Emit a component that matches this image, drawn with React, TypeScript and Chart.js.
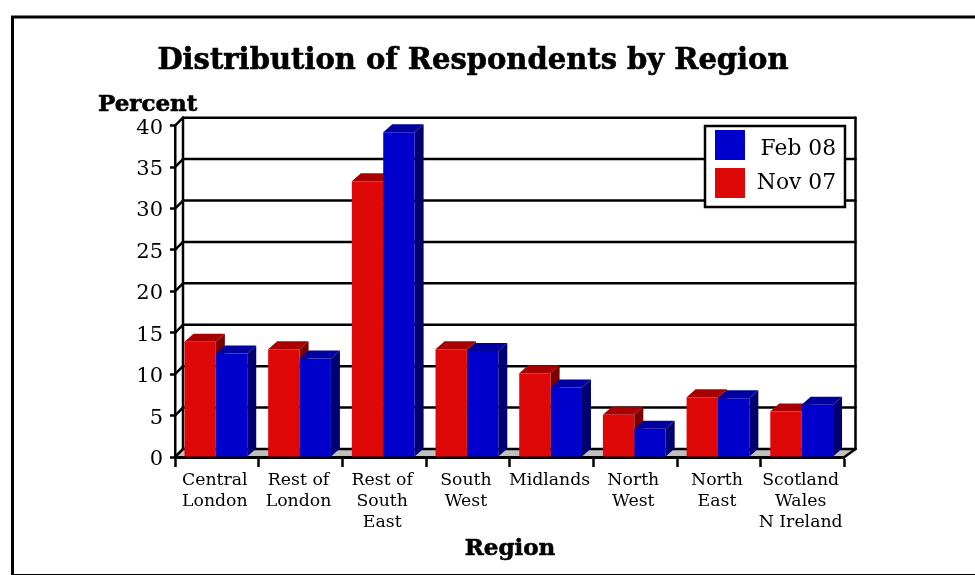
import React, { useEffect, useRef } from "react";
import { Chart, registerables } from "chart.js";

Chart.register(...registerables);

const categories = [
  ["Central", "London"],
  ["Rest of", "London"],
  ["Rest of", "South", "East"],
  ["South", "West"],
  ["Midlands"],
  ["North", "West"],
  ["North", "East"],
  ["Scotland", "Wales", "N Ireland"],
];
const nov07 = [13.9, 13, 33.3, 13, 10.1, 5.1, 7.2, 5.5];
const feb08 = [12.5, 11.9, 39.2, 12.8, 8.4, 3.4, 7.1, 6.3];
const legendItems = ["Feb 08", "Nov 07"];
const titleText = "Distribution of Respondents by Region";
const yTitleText = "Percent";
const xTitleText = "Region";

const RED = "#de0808";
const RED_TOP = "#a80000";
const RED_SIDE = "#7a0000";
const BLUE = "#0000cc";
const BLUE_TOP = "#0000a0";
const BLUE_SIDE = "#000070";
const SERIF = '"DejaVu Serif", serif';

// Pseudo-3D depth, in pixels: walls on the left and right, then the bars.
const WALL_LEFT_DX = 8;
const WALL_RIGHT_DX = 11;
const BAR_DX = 9;
const DY = -8;

function poly(ctx: CanvasRenderingContext2D, pts: number[][], fill: string) {
  ctx.beginPath();
  pts.forEach(([x, y], i) => (i ? ctx.lineTo(x, y) : ctx.moveTo(x, y)));
  ctx.closePath();
  ctx.fillStyle = fill;
  ctx.fill();
}

function line(ctx: CanvasRenderingContext2D, x0: number, y0: number, x1: number, y1: number, w = 2.5) {
  ctx.beginPath();
  ctx.moveTo(x0, y0);
  ctx.lineTo(x1, y1);
  ctx.lineWidth = w;
  ctx.strokeStyle = "#000";
  ctx.stroke();
}

// Bold heading text, thickened slightly with a thin outline.
function heavyText(ctx: CanvasRenderingContext2D, text: string, x: number, y: number) {
  ctx.lineWidth = 0.6;
  ctx.strokeStyle = "#000";
  ctx.strokeText(text, x, y);
  ctx.fillText(text, x, y);
}

// Back wall, side wall and floor behind the axes.
const wallPlugin = {
  id: "walls",
  beforeDraw(chart: any) {
    const { ctx, chartArea: a, scales } = chart;
    ctx.save();
    ctx.lineCap = "round";
    const bx = a.left + WALL_LEFT_DX;
    const rx = a.right + WALL_RIGHT_DX;
    poly(
      ctx,
      [
        [a.left, a.bottom],
        [bx, a.bottom + DY],
        [rx, a.bottom + DY],
        [a.right, a.bottom],
      ],
      "#c0c0c0"
    );
    for (let v = 0; v <= 40; v += 5) {
      const y = scales.y.getPixelForValue(v);
      line(ctx, a.left, y, bx, y + DY);
      line(ctx, bx, y + DY, rx, y + DY);
    }
    const top = scales.y.getPixelForValue(40) + DY;
    const bottom = scales.y.getPixelForValue(0) + DY;
    line(ctx, bx, top, bx, bottom);
    line(ctx, rx, top, rx, bottom);
    line(ctx, rx, bottom, a.right, a.bottom);
    ctx.restore();
  },
  // Top and side faces of each bar, placed behind the library's front faces.
  beforeDatasetsDraw(chart: any) {
    const { ctx } = chart;
    ctx.save();
    ctx.translate(-1, 0);
    [0, 1].forEach((ds) => {
      const [topC, sideC] = ds === 0 ? [RED_TOP, RED_SIDE] : [BLUE_TOP, BLUE_SIDE];
      chart.getDatasetMeta(ds).data.forEach((bar: any) => {
        const half = bar.width / 2;
        const l = bar.x - half;
        const r = bar.x + half;
        const t = bar.y;
        const b = bar.base;
        poly(ctx, [[l, t], [l + BAR_DX, t + DY], [r + BAR_DX, t + DY], [r, t]], topC);
        poly(ctx, [[r, t], [r + BAR_DX, t + DY], [r + BAR_DX, b + DY], [r, b]], sideC);
      });
    });
  },
  afterDatasetsDraw(chart: any) {
    chart.ctx.restore();
  },
  afterDraw(chart: any) {
    const { ctx } = chart;
    ctx.save();
    ctx.fillStyle = "#000";
    ctx.textBaseline = "alphabetic";

    ctx.textAlign = "center";
    ctx.font = `bold 29px ${SERIF}`;
    heavyText(ctx, titleText, 473, 69);

    ctx.font = `bold 23px ${SERIF}`;
    heavyText(ctx, xTitleText, 510, 555);

    ctx.textAlign = "left";
    heavyText(ctx, yTitleText, 98, 111);

    // Legend box
    ctx.fillStyle = "#fff";
    ctx.fillRect(705, 126, 140, 81);
    ctx.lineWidth = 2.5;
    ctx.strokeStyle = "#000";
    ctx.strokeRect(705, 126, 140, 81);
    ctx.fillStyle = BLUE;
    ctx.fillRect(715, 130, 30, 30);
    ctx.fillStyle = RED;
    ctx.fillRect(715, 168, 30, 30);
    ctx.fillStyle = "#000";
    ctx.textAlign = "right";
    ctx.font = `21.8px ${SERIF}`;
    ctx.fillText(legendItems[0], 836, 155);
    ctx.fillText(legendItems[1], 836, 189);

    // Outer frame, running off the right and bottom edges
    ctx.lineWidth = 3;
    ctx.strokeStyle = "#000";
    ctx.strokeRect(12.5, 17, 975, 558.5);
    ctx.restore();
  },
};

export default function App() {
  const ref = useRef<HTMLCanvasElement>(null);
  useEffect(() => {
    const chart = new Chart(ref.current!, {
      type: "bar",
      data: {
        labels: categories,
        datasets: [
          { label: legendItems[1], data: nov07, backgroundColor: RED, barPercentage: 1, categoryPercentage: 0.75 },
          { label: legendItems[0], data: feb08, backgroundColor: BLUE, barPercentage: 1, categoryPercentage: 0.75 },
        ],
      },
      options: {
        animation: false,
        responsive: false,
        layout: { padding: { top: 125.7, right: 130.5, left: 0, bottom: 0 } },
        plugins: { legend: { display: false }, title: { display: false }, tooltip: { enabled: false } },
        scales: {
          x: {
            z: 1,
            afterFit(scale: any) {
              scale.height = 118;
            },
            grid: { drawOnChartArea: false, drawTicks: true, tickLength: 10, tickColor: "#000", tickWidth: 2.5, offset: true },
            border: { color: "#000", width: 3 },
            ticks: {
              color: "#000",
              maxRotation: 0,
              autoSkip: false,
              padding: 3,
              labelOffset: -2,
              font: { family: SERIF, size: 17.3, lineHeight: 21 / 17.3 },
            },
          },
          y: {
            min: 0,
            max: 40,
            afterFit(scale: any) {
              scale.width = 175;
            },
            grid: { drawOnChartArea: false, drawTicks: true, tickLength: 5, tickColor: "#000", tickWidth: 2.5 },
            border: { color: "#000", width: 2.5 },
            ticks: {
              stepSize: 5,
              color: "#000",
              padding: 7,
              labelOffset: 2.5,
              font: { family: SERIF, size: 21 },
            },
          },
        },
      },
      plugins: [wallPlugin],
    } as any);
    return () => chart.destroy();
  }, []);
  return (
    <div style={{ position: "absolute", left: 0, top: 0, width: 975, height: 575, background: "#fff" }}>
      <canvas ref={ref} width={975} height={575} style={{ display: "block" }} />
    </div>
  );
}
